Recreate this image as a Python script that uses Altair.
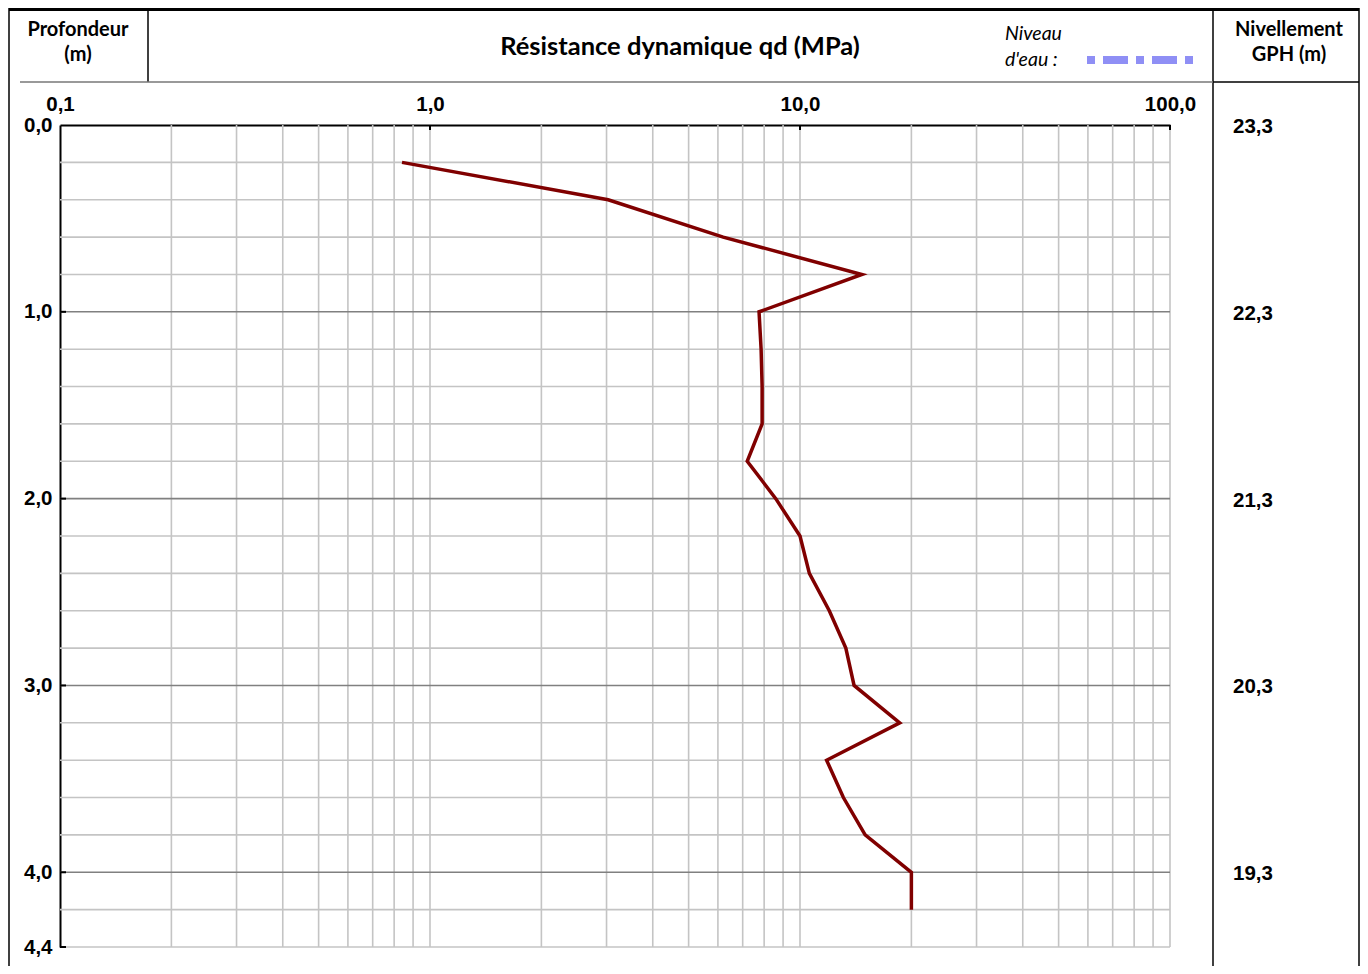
import altair as alt
import pandas as pd

# ---- data ----
depth = [0.2, 0.4, 0.6, 0.8, 1.0, 1.2, 1.4, 1.6, 1.8, 2.0, 2.2,
         2.4, 2.6, 2.8, 3.0, 3.2, 3.4, 3.6, 3.8, 4.0, 4.2]
qd = [0.84, 3.03, 6.2, 14.7, 7.75, 7.85, 7.9, 7.9, 7.2, 8.6, 10.0,
      10.6, 12.0, 13.3, 14.0, 18.6, 11.8, 13.1, 15.0, 20.0, 20.0]

x_major = [0.1, 1, 10, 100]
x_grid = [0.2, 0.3, 0.4, 0.5, 0.6, 0.7, 0.8, 0.9, 1,
          2, 3, 4, 5, 6, 7, 8, 9, 10,
          20, 30, 40, 50, 60, 70, 80, 90, 100]
y_minor = [0.2, 0.4, 0.6, 0.8, 1.2, 1.4, 1.6, 1.8, 2.2, 2.4, 2.6, 2.8,
           3.2, 3.4, 3.6, 3.8, 4.2, 4.4]
y_major = [1, 2, 3, 4]
y_label_vals = [0, 1, 2, 3, 4, 4.4]
elev_depth = [0, 1, 2, 3, 4]
elev_labels = ["23,3", "22,3", "21,3", "20,3", "19,3"]

W, H = 1110, 822
NUMFONT = "Arial, Liberation Sans, sans-serif"
NUMSIZE = 20.5
HDRFONT = "Lato"
comma_expr = "replace(format(datum.value, '.1f'), '.', ',')"

xscale = alt.Scale(type="log", domain=[0.1, 100], nice=False)
yscale = alt.Scale(domain=[0, 4.4], reverse=True, nice=False, zero=False)

xaxis = alt.Axis(orient="top", values=x_major, labelExpr=comma_expr, grid=False,
                 ticks=False, tickSize=0, domainColor="black", domainWidth=2,
                 labelFont=NUMFONT, labelFontWeight="bold", labelFontSize=NUMSIZE,
                 labelColor="black", labelPadding=11, labelFlush=False,
                 labelOverlap=False, labelBound=False, title=None)
yaxis = alt.Axis(orient="left", values=y_label_vals, labelExpr=comma_expr, grid=False,
                 ticks=False, tickSize=0, domainColor="black", domainWidth=2,
                 labelFont=NUMFONT, labelFontWeight="bold", labelFontSize=NUMSIZE,
                 labelColor="black", labelPadding=8, labelFlush=False,
                 labelOverlap=False, labelBound=False, title=None)


def X(f):
    return alt.X(f, type="quantitative", scale=xscale, axis=xaxis)


def Y(f):
    return alt.Y(f, type="quantitative", scale=yscale, axis=yaxis)


one = pd.DataFrame({"a": [0]})

# grid
vgrid = alt.Chart(pd.DataFrame({"v": x_grid})).mark_rule(
    color="#c4c4c4", strokeWidth=1.6).encode(x=X("v"), y=alt.value(0), y2=alt.value(H))
hgrid_minor = alt.Chart(pd.DataFrame({"d": y_minor})).mark_rule(
    color="#c4c4c4", strokeWidth=1.6).encode(y=Y("d"), x=alt.value(0), x2=alt.value(W))
hgrid_major = alt.Chart(pd.DataFrame({"d": y_major})).mark_rule(
    color="#808080", strokeWidth=1.6).encode(y=Y("d"), x=alt.value(0), x2=alt.value(W))

# inner ticks
xticks = alt.Chart(pd.DataFrame({"v": x_major[1:]})).mark_rule(
    color="black", strokeWidth=2).encode(x=X("v"), y=alt.value(0), y2=alt.value(5))
yticks = alt.Chart(pd.DataFrame({"d": y_label_vals[1:]})).mark_rule(
    color="black", strokeWidth=2).encode(y=Y("d"), x=alt.value(0), x2=alt.value(6))

# data line
line = alt.Chart(pd.DataFrame({"depth": depth, "qd": qd})).mark_line(
    color="#800000", strokeWidth=3.5, strokeJoin="miter").encode(
    x=X("qd"), y=Y("depth"), order=alt.Order("depth:Q"))

# elevation labels
elev = alt.Chart(pd.DataFrame({"d": elev_depth, "t": elev_labels})).mark_text(
    font=NUMFONT, fontWeight="bold", fontSize=NUMSIZE, align="left", baseline="middle",
    color="black", dy=2).encode(y=Y("d"), x=alt.value(1173), text="t:N")


def hrule(x1, x2, y, color="black", w=1.5):
    return alt.Chart(one).mark_rule(color=color, strokeWidth=w).encode(
        x=alt.value(x1), x2=alt.value(x2), y=alt.value(y))


def vrule(x, y1, y2, color="black", w=1.5):
    return alt.Chart(one).mark_rule(color=color, strokeWidth=w).encode(
        x=alt.value(x), y=alt.value(y1), y2=alt.value(y2))


def label(t, x, y, size=20, weight="bold", style="normal", align="center"):
    return alt.Chart(one).mark_text(text=t, font=HDRFONT, fontSize=size,
                                    fontWeight=weight, fontStyle=style, align=align,
                                    baseline="middle", color="black").encode(
        x=alt.value(x), y=alt.value(y))


frame = [
    hrule(-51, 1299, -115.5, w=3),
    vrule(-51, -117, 841),
    vrule(1299, -117, 841),
    vrule(1153, -117, 841),
    vrule(88, -117, -43),
    hrule(-40, 1153, -43, color="#777777", w=1.5),
    hrule(1153, 1299, -43, color="black", w=1.5),
]

headers = [
    label("Profondeur", 18, -95),
    label("(m)", 18, -70),
    label("Résistance dynamique qd (MPa)", 620, -78, size=25.5),
    label("Niveau", 945, -91, size=19.5, weight="normal", style="italic", align="left"),
    label("d'eau :", 945, -65, size=19.5, weight="normal", style="italic", align="left"),
    label("Nivellement", 1229, -95),
    label("GPH (m)", 1229, -70),
]

water = alt.Chart(one).mark_rule(color="#8f8ff5", strokeWidth=8, strokeCap="butt",
                                 strokeDash=[8, 8, 25, 8]).encode(
    x=alt.value(1027), x2=alt.value(1133), y=alt.value(-65))

chart = alt.layer(
    vgrid, hgrid_minor, hgrid_major, xticks, yticks, line, elev, water,
    *frame, *headers
).properties(
    width=W, height=H,
    padding={"left": 52, "top": 117, "right": 190, "bottom": 19},
    autosize=alt.AutoSizeParams(type="none"),
    background="white",
).configure_view(stroke=None)

chart.save("out.html", embed_options={"renderer": "svg", "actions": False})
